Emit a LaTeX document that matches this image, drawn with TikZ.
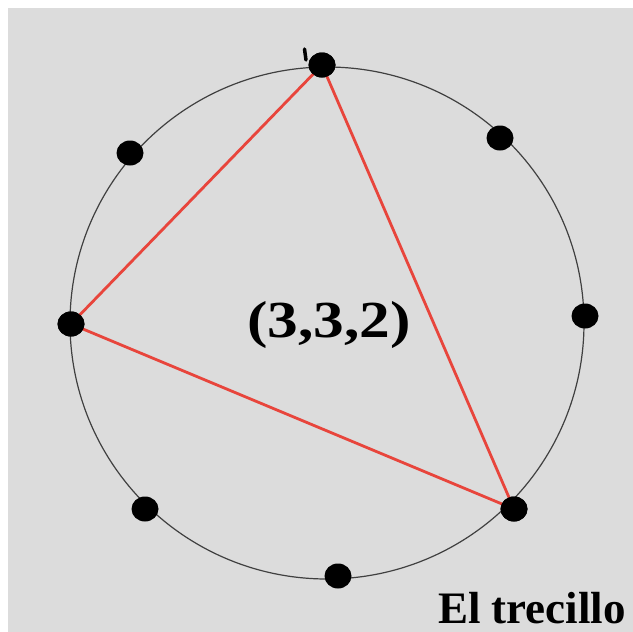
\documentclass[tikz,border=0pt]{standalone}
\usepackage{fontspec}
\setmainfont{Liberation Serif}
\usetikzlibrary{shapes.geometric}
\definecolor{bggrey}{HTML}{DCDCDC}
\definecolor{tri}{HTML}{E8453C}
\begin{document}
\begin{tikzpicture}[x=1pt,y=-1pt,
  dot/.style={fill=black,draw=none,shape=ellipse,minimum width=27pt,minimum height=25pt,inner sep=0pt},
  edge/.style={draw=tri,line width=2.8pt},
  ring/.style={draw=black!75,line width=1.2pt}]
\useasboundingbox (0,0) rectangle (633,632);
\fill[white] (0,0) rectangle (633,632);
\fill[bggrey] (8,8) rectangle (633,632);
\coordinate (c) at (327,323);
\draw[ring] (c) ellipse [x radius=257, y radius=256];
\node[dot] (p0) at (322,65) {};
\node[dot] (p1) at (500,138) {};
\node[dot] (p2) at (585,316) {};
\node[dot] (p3) at (514,509) {};
\node[dot] (p4) at (338,576) {};
\node[dot] (p5) at (145,509) {};
\node[dot] (p6) at (71,324) {};
\node[dot] (p7) at (130,153) {};
\draw[edge] (p0.center) -- (p3.center) -- (p6.center) -- cycle;
\foreach \p in {p0,p3,p6} \node[dot] at (\p) {};
\draw[black,line width=3.5pt,line cap=round] (304.5,49) -- (306,60);
\node[font=\fontsize{52}{52}\selectfont\bfseries,xscale=1.18] (lab) at (329,325) {(3,3,2)};
\node[font=\fontsize{45}{45}\selectfont\bfseries,anchor=base] (title) at (532,623) {El trecillo};
\end{tikzpicture}
\end{document}
